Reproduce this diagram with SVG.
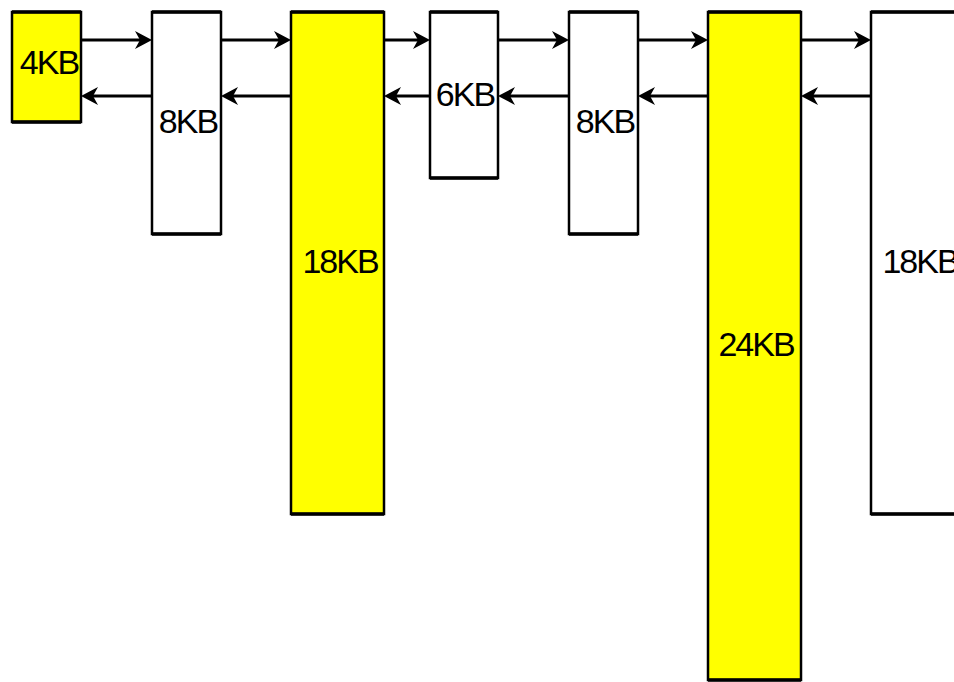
<svg xmlns="http://www.w3.org/2000/svg" width="954" height="682" viewBox="0 0 954 682">
<style>
.box{stroke:#000;stroke-width:2.5}
.y{fill:#ffff00}
.w{fill:#ffffff}
.hb{stroke:#000;stroke-width:3.5;fill:none}
.lbl{font-family:"Liberation Sans",Arial,sans-serif;font-size:34px;letter-spacing:-2px;fill:#000;text-anchor:middle}
.c{stroke:#000;stroke-width:3.2;fill:none}
</style>
<defs>
<marker id="ah" markerUnits="userSpaceOnUse" markerWidth="17" markerHeight="19" viewBox="0 0 17 19" refX="12" refY="9.5" orient="auto">
<path d="M0,0.5 L17,9.5 L0,18.5 L5,9.5 Z" fill="#000"/>
</marker>
</defs>
<rect width="954" height="682" fill="#fff"/>
<g id="connectors">
<line class="c" x1="81" y1="40" x2="147" y2="40" marker-end="url(#ah)"/>
<line class="c" x1="221" y1="40" x2="286" y2="40" marker-end="url(#ah)"/>
<line class="c" x1="384" y1="40" x2="425" y2="40" marker-end="url(#ah)"/>
<line class="c" x1="498" y1="40" x2="564" y2="40" marker-end="url(#ah)"/>
<line class="c" x1="638" y1="40" x2="703" y2="40" marker-end="url(#ah)"/>
<line class="c" x1="801" y1="40" x2="866" y2="40" marker-end="url(#ah)"/>
<line class="c" x1="152" y1="96" x2="86" y2="96" marker-end="url(#ah)"/>
<line class="c" x1="291" y1="96" x2="226" y2="96" marker-end="url(#ah)"/>
<line class="c" x1="430" y1="96" x2="389" y2="96" marker-end="url(#ah)"/>
<line class="c" x1="569" y1="96" x2="503" y2="96" marker-end="url(#ah)"/>
<line class="c" x1="708" y1="96" x2="643" y2="96" marker-end="url(#ah)"/>
<line class="c" x1="871" y1="96" x2="806" y2="96" marker-end="url(#ah)"/>
</g>
<g id="b4kb">
<rect class="box y" x="12" y="12" width="69" height="110"/>
<path class="hb" d="M12,12 H81 M12,122 H81"/>
<text class="lbl" x="49" y="74">4KB</text>
</g>
<g id="b8kb1">
<rect class="box w" x="152" y="12" width="69" height="222"/>
<path class="hb" d="M152,12 H221 M152,234 H221"/>
<text class="lbl" x="188" y="133">8KB</text>
</g>
<g id="b18kb1">
<rect class="box y" x="291" y="12" width="93" height="502"/>
<path class="hb" d="M291,12 H384 M291,514 H384"/>
<text class="lbl" x="340" y="273">18KB</text>
</g>
<g id="b6kb">
<rect class="box w" x="430" y="12" width="68" height="166"/>
<path class="hb" d="M430,12 H498 M430,178 H498"/>
<text class="lbl" x="465" y="106">6KB</text>
</g>
<g id="b8kb2">
<rect class="box w" x="569" y="12" width="69" height="222"/>
<path class="hb" d="M569,12 H638 M569,234 H638"/>
<text class="lbl" x="605" y="133">8KB</text>
</g>
<g id="b24kb">
<rect class="box y" x="708" y="12" width="93" height="668"/>
<path class="hb" d="M708,12 H801 M708,680 H801"/>
<text class="lbl" x="756" y="356">24KB</text>
</g>
<g id="b18kb2">
<rect class="box w" x="871" y="12" width="93" height="502"/>
<path class="hb" d="M871,12 H964 M871,514 H964"/>
<text class="lbl" x="920" y="273">18KB</text>
</g>
</svg>
